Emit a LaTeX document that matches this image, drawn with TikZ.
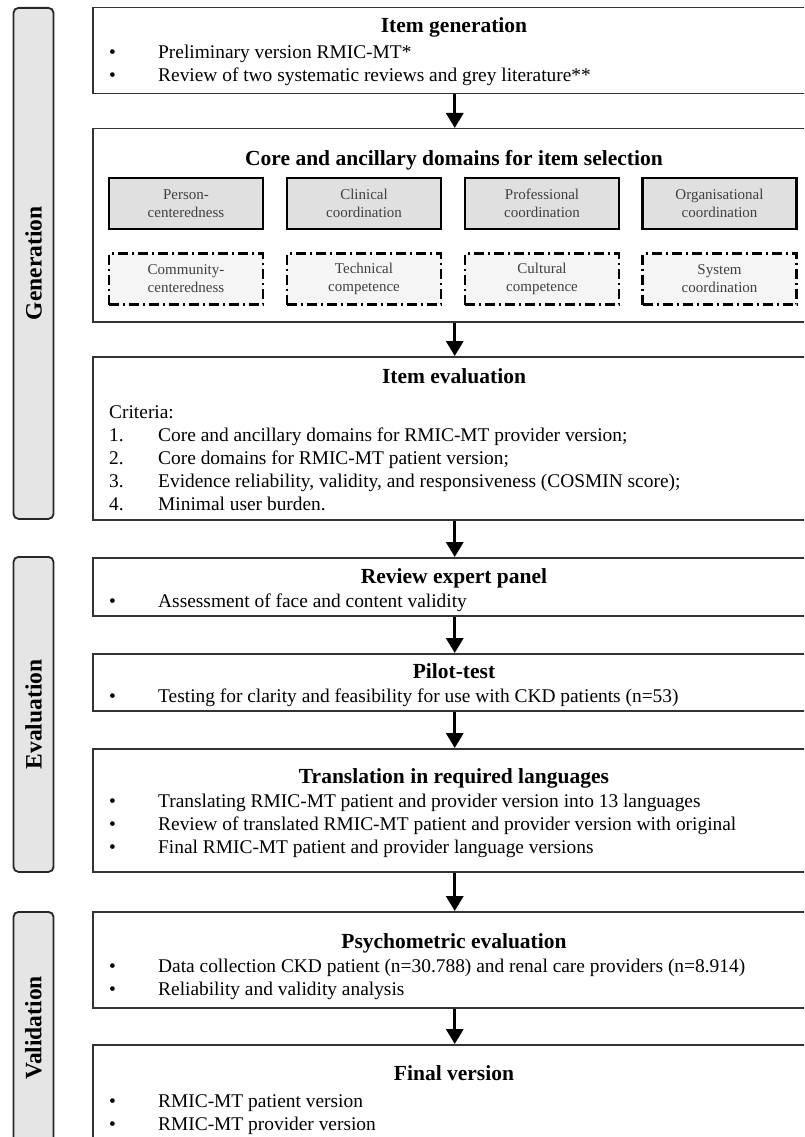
\documentclass[tikz,border=0pt]{standalone}
\usepackage{fontspec}
\setmainfont{Liberation Serif}
\usetikzlibrary{arrows.meta}

\tikzset{
    phase/.style={draw=black!85, line width=1.8pt, fill=black!10, rounded corners=5pt,
        minimum width=40, anchor=north, inner sep=0},
    phaselabel/.style={rotate=90, inner sep=0, font=\fontsize{23.5}{28}\selectfont\bfseries},
    stage/.style={draw=black!80, line width=1.5pt, anchor=north west, minimum width=724, inner sep=0},
    title/.style={anchor=base, inner sep=0, font=\fontsize{21.5}{26}\selectfont\bfseries},
    txt/.style={anchor=base west, inner sep=0, font=\fontsize{19.4}{23}\selectfont},
    coredom/.style={draw=black, line width=2.4pt, fill=black!12, minimum width=154, minimum height=51,
        align=center, inner sep=0, text=black!75, font=\fontsize{15}{18}\selectfont},
    ancdom/.style={coredom, fill=black!4, line width=2.2pt, dash pattern=on 10pt off 4pt on 2pt off 4pt},
    flow/.style={-{Triangle[length=15pt,width=17pt]}, line width=3.3pt, black}
}

\begin{document}
\begin{tikzpicture}[x=1pt, y=-1pt]
    \useasboundingbox (0,0) rectangle (804,1137);
    \clip (0,0) rectangle (804,1137);
    % phases on the left
    \node[phase, minimum height=511] (genbar) at (33.5,7) {};
    \node[phaselabel] (genlbl) at (genbar.center) {Generation};
    \node[phase, minimum height=315] (evalbar) at (33.5,556) {};
    \node[phaselabel] (evallbl) at (evalbar.center) {Evaluation};
    \node[phase, minimum height=232] (valbar) at (33.5,911) {};
    \node[phaselabel] (vallbl) at (valbar.center) {Validation};

    % item generation
    \node[stage, minimum height=86] (gen) at (92,7) {};
    \node[title] (gent) at (454,33) {Item generation};
    \node[txt] (genb1) at (109,59) {\textbullet};
    \node[txt] (gen1) at (158,59) {Preliminary version RMIC-MT*};
    \node[txt] (genb2) at (109,82) {\textbullet};
    \node[txt] (gen2) at (158,82) {Review of two systematic reviews and grey literature**};

    % domains
    \node[stage, minimum height=193] (core) at (92,128) {};
    \node[title] (coret) at (454,165) {Core and ancillary domains for item selection};
    \foreach \name/\x/\lbl in {pc/186/{Person-\\centeredness}, cc/364/{Clinical\\coordination},
        pf/542/{Professional\\coordination}, oc/719.5/{Organisational\\coordination}}
        \node[coredom] (\name) at (\x,203.5) {\lbl};
    \foreach \name/\x/\lbl in {mc/186/{Community-\\centeredness}, tc/364/{Technical\\competence},
        uc/542/{Cultural\\competence}, sc/719.5/{System\\coordination}}
        \node[ancdom] (\name) at (\x,279) {\lbl};

    % item evaluation
    \node[stage, minimum height=163] (ieval) at (92,356) {};
    \node[title] (ievalt) at (454,383) {Item evaluation};
    \node[txt] (crit) at (109,418) {Criteria:};
    \node[txt] (n1) at (109,441) {1.};
    \node[txt] (c1) at (158,441) {Core and ancillary domains for RMIC-MT provider version;};
    \node[txt] (n2) at (109,464) {2.};
    \node[txt] (c2) at (158,464) {Core domains for RMIC-MT patient version;};
    \node[txt] (n3) at (109,487) {3.};
    \node[txt] (c3) at (158,487) {Evidence reliability, validity, and responsiveness (COSMIN score);};
    \node[txt] (n4) at (109,510) {4.};
    \node[txt] (c4) at (158,510) {Minimal user burden.};

    % expert panel
    \node[stage, minimum height=58] (panel) at (92,557) {};
    \node[title] (panelt) at (454,583) {Review expert panel};
    \node[txt] (panelb1) at (109,607) {\textbullet};
    \node[txt] (panel1) at (158,607) {Assessment of face and content validity};

    % pilot
    \node[stage, minimum height=57] (pilot) at (92,653) {};
    \node[title] (pilott) at (454,678) {Pilot-test};
    \node[txt] (pilotb1) at (109,702) {\textbullet};
    \node[txt] (pilot1) at (158,702) {Testing for clarity and feasibility for use with CKD patients (n=53)};

    % translation
    \node[stage, minimum height=123] (transl) at (92,748) {};
    \node[title] (translt) at (454,783) {Translation in required languages};
    \node[txt] (translb1) at (109,807) {\textbullet};
    \node[txt] (transl1) at (158,807) {Translating RMIC-MT patient and provider version into 13 languages};
    \node[txt] (translb2) at (109,830) {\textbullet};
    \node[txt] (transl2) at (158,830) {Review of translated RMIC-MT patient and provider version with original};
    \node[txt] (translb3) at (109,853) {\textbullet};
    \node[txt] (transl3) at (158,853) {Final RMIC-MT patient and provider language versions};

    % psychometrics
    \node[stage, minimum height=96] (psych) at (92,911) {};
    \node[title] (psycht) at (454,948) {Psychometric evaluation};
    \node[txt] (psychb1) at (109,972) {\textbullet};
    \node[txt] (psych1) at (158,972) {Data collection CKD patient (n=30.788) and renal care providers (n=8.914)};
    \node[txt] (psychb2) at (109,995) {\textbullet};
    \node[txt] (psych2) at (158,995) {Reliability and validity analysis};

    % final version
    \node[stage, minimum height=110] (final) at (92,1044) {};
    \node[title] (finalt) at (454,1080) {Final version};
    \node[txt] (finalb1) at (109,1107) {\textbullet};
    \node[txt] (final1) at (158,1107) {RMIC-MT patient version};
    \node[txt] (finalb2) at (109,1130) {\textbullet};
    \node[txt] (final2) at (158,1130) {RMIC-MT provider version};

    % arrows between the steps
    \draw[flow] (gen.south) -- (core.north);
    \draw[flow] (core.south) -- (ieval.north);
    \draw[flow] (ieval.south) -- (panel.north);
    \draw[flow] (panel.south) -- (pilot.north);
    \draw[flow] (pilot.south) -- (transl.north);
    \draw[flow] (transl.south) -- (psych.north);
    \draw[flow] (psych.south) -- (final.north);
\end{tikzpicture}
\end{document}
